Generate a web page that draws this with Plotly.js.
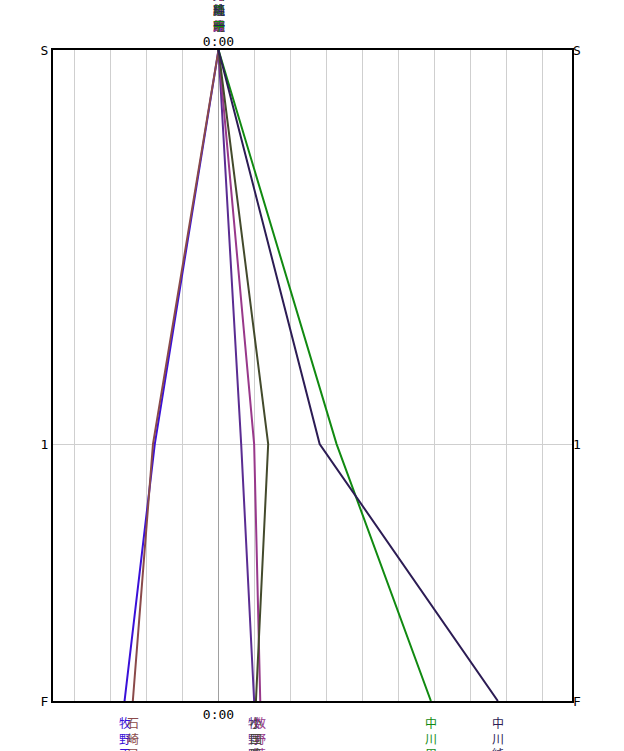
<!DOCTYPE html>
<html>
<head>
<meta charset="utf-8">
<script src="https://cdn.plot.ly/plotly-3.0.1.min.js"></script>
<style>html,body{margin:0;padding:0;background:#fff;}#chart{width:624px;height:751px;}</style>
</head>
<body>
<div id="chart"></div>
<script>
// Racers
const names = ["牧野正隆", "石崎早苗", "牧野隆之", "数野英雄", "小国隆明", "中川周平", "中川純一"];
const colors = ["#3a10d8", "#8a4a4a", "#5a2c92", "#98388a", "#434a2c", "#118a11", "#2c1c54"];
// position (seconds from leader) at each check point
const atStart = [0, 0, 0, 0, 0, 0, 0];
const atMark1 = [-1.77, -1.82, 0.63, 0.99, 1.38, 3.28, 2.81];
const atFinish = [-2.61, -2.38, 0.99, 1.16, 1.04, 5.90, 7.76];
// check points (S, 1, F)
const checkLabels = ["S", "1", "F"];
const checkPos = [0, 1, 1.652];

const xMin = -4.597, xMax = 9.819;
const tickVals = [];
const tickText = [];
for (let i = -4; i <= 9; i++) { tickVals.push(i); tickText.push(i === 0 ? "0:00" : ""); }

const traces = names.map((n, i) => ({
  type: "scatter", mode: "lines", name: n,
  x: [atStart[i], atMark1[i], atFinish[i]],
  y: checkPos.slice(),
  line: {color: colors[i], width: 2},
  hoverinfo: "skip"
}));
traces.push({type: "scatter", mode: "markers", x: [0], y: [0], xaxis: "x2", yaxis: "y2",
  marker: {opacity: 0}, hoverinfo: "skip", showlegend: false});

const cjk = "Noto Sans CJK JP";
const annotations = [];
names.forEach((n, i) => {
  const txt = n.split("").join("<br>");
  annotations.push({x: atFinish[i], xref: "x", y: 0, yref: "paper", yanchor: "top", xanchor: "center",
    yshift: -11, showarrow: false, text: txt, align: "center",
    font: {family: cjk, size: 12, color: colors[i]}});
  annotations.push({x: atStart[i], xref: "x", y: 1, yref: "paper", yanchor: "bottom", xanchor: "center",
    yshift: 14, showarrow: false, text: txt, align: "center",
    font: {family: cjk, size: 12, color: colors[i]}});
});

const mono = {family: "DejaVu Sans Mono", size: 13, color: "#000"};
const layout = {
  width: 624, height: 751,
  margin: {l: 53, r: 52, t: 50, b: 50},
  paper_bgcolor: "#fff", plot_bgcolor: "#fff",
  showlegend: false,
  xaxis: {range: [xMin, xMax], tickvals: tickVals, ticktext: tickText, showgrid: true,
    gridcolor: "#cfcfcf", gridwidth: 1, zeroline: true, zerolinecolor: "#a0a0a0", zerolinewidth: 1,
    showline: true, linecolor: "#000", linewidth: 2, mirror: true, ticks: "", tickfont: mono,
    fixedrange: true},
  xaxis2: {range: [xMin, xMax], overlaying: "x", side: "top", tickvals: [0], ticktext: ["0:00"],
    showgrid: false, zeroline: false, showline: false, ticks: "", tickfont: mono},
  yaxis: {range: [checkPos[2], 0], tickvals: checkPos, ticktext: checkLabels, showgrid: true,
    gridcolor: "#cfcfcf", zeroline: false, showline: true, linecolor: "#000", linewidth: 2,
    mirror: true, ticks: "", tickfont: mono},
  yaxis2: {range: [checkPos[2], 0], overlaying: "y", side: "right", tickvals: checkPos,
    ticktext: checkLabels, showgrid: false, zeroline: false, showline: false, ticks: "", tickfont: mono},
  annotations: annotations
};
Plotly.newPlot("chart", traces, layout, {staticPlot: true, displayModeBar: false});
</script>
</body>
</html>
